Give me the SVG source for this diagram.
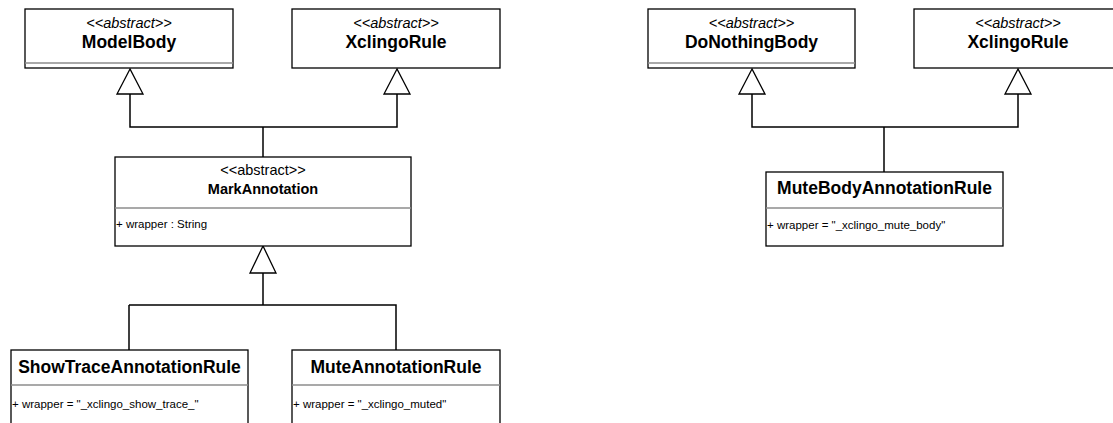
<svg xmlns="http://www.w3.org/2000/svg" width="1113" height="423" viewBox="0 0 1113 423">
  <defs>
    <style>
      .box { fill: #fff; stroke: #000; stroke-width: 1.3; }
      .sep { stroke: #8c8c8c; stroke-width: 1.6; }
      .edge { fill: none; stroke: #000; stroke-width: 1.5; }
      .tri { fill: #fff; stroke: #000; stroke-width: 1.3; stroke-linejoin: miter; }
      .stereo { font-family: "Liberation Sans", Arial, sans-serif; font-size: 14.5px; font-style: italic; text-anchor: middle; fill: #000; }
      .stereo-plain { font-family: "Liberation Sans", Arial, sans-serif; font-size: 14.5px; text-anchor: middle; fill: #000; }
      .name { font-family: "Liberation Sans", Arial, sans-serif; font-size: 17.5px; font-weight: bold; text-anchor: middle; fill: #000; }
      .name-sm { font-family: "Liberation Sans", Arial, sans-serif; font-size: 14.5px; font-weight: bold; text-anchor: middle; fill: #000; }
      .attr { font-family: "Liberation Sans", Arial, sans-serif; font-size: 11.5px; fill: #000; }
    </style>
  </defs>
  <rect width="1113" height="423" fill="#fff"/>

  <!-- generalization connectors -->
  <g id="connectors">
    <path class="edge" d="M130 94 V127 H397 V94"/>
    <path class="edge" d="M263 127 V157"/>
    <path class="edge" d="M263 273 V305"/>
    <path class="edge" d="M129 305 H396 V350"/>
    <path class="edge" d="M129 305 V350"/>
    <path class="edge" d="M752 94 V127 H1018 V94"/>
    <path class="edge" d="M884 127 V172"/>
    <polygon class="tri" points="130,69 117,94 143,94"/>
    <polygon class="tri" points="397,69 384,94 410,94"/>
    <polygon class="tri" points="263,246 250,273 276,273"/>
    <polygon class="tri" points="752,69 739,94 765,94"/>
    <polygon class="tri" points="1018,69 1005,94 1031,94"/>
  </g>

  <g id="ModelBody">
    <rect class="box" x="25" y="9" width="208" height="59"/>
    <line class="sep" x1="25" y1="63" x2="233" y2="63"/>
    <text class="stereo" x="129" y="28">&lt;&lt;abstract&gt;&gt;</text>
    <text class="name" x="129" y="48">ModelBody</text>
  </g>

  <g id="XclingoRule-left">
    <rect class="box" x="292" y="9" width="208" height="59"/>
    <text class="stereo" x="396" y="28">&lt;&lt;abstract&gt;&gt;</text>
    <text class="name" x="396" y="48">XclingoRule</text>
  </g>

  <g id="MarkAnnotation">
    <rect class="box" x="115" y="157" width="296" height="89"/>
    <line class="sep" x1="115" y1="208" x2="411" y2="208"/>
    <text class="stereo-plain" x="263" y="175">&lt;&lt;abstract&gt;&gt;</text>
    <text class="name-sm" x="263" y="194">MarkAnnotation</text>
    <text class="attr" x="116" y="228">+ wrapper : String</text>
  </g>

  <g id="ShowTraceAnnotationRule">
    <rect class="box" x="11" y="350" width="237" height="85"/>
    <line class="sep" x1="11" y1="385" x2="248" y2="385"/>
    <text class="name" x="129.5" y="373">ShowTraceAnnotationRule</text>
    <text class="attr" x="12" y="408">+ wrapper = "_xclingo_show_trace_"</text>
  </g>

  <g id="MuteAnnotationRule">
    <rect class="box" x="292" y="350" width="208" height="85"/>
    <line class="sep" x1="292" y1="385" x2="500" y2="385"/>
    <text class="name" x="396" y="373">MuteAnnotationRule</text>
    <text class="attr" x="293" y="408">+ wrapper = "_xclingo_muted"</text>
  </g>

  <g id="DoNothingBody">
    <rect class="box" x="648" y="9" width="207" height="59"/>
    <line class="sep" x1="648" y1="63" x2="855" y2="63"/>
    <text class="stereo" x="751.5" y="28">&lt;&lt;abstract&gt;&gt;</text>
    <text class="name" x="751.5" y="48">DoNothingBody</text>
  </g>

  <g id="XclingoRule-right">
    <rect class="box" x="914" y="9" width="208" height="59"/>
    <text class="stereo" x="1018" y="28">&lt;&lt;abstract&gt;&gt;</text>
    <text class="name" x="1018" y="48">XclingoRule</text>
  </g>

  <g id="MuteBodyAnnotationRule">
    <rect class="box" x="766" y="172" width="237" height="74"/>
    <line class="sep" x1="766" y1="208" x2="1003" y2="208"/>
    <text class="name" x="884.5" y="194">MuteBodyAnnotationRule</text>
    <text class="attr" x="767" y="229">+ wrapper = "_xclingo_mute_body"</text>
  </g>
</svg>
